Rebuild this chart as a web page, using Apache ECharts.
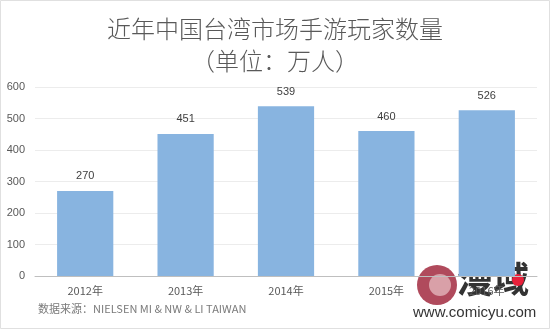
<!DOCTYPE html>
<html><head><meta charset="utf-8">
<script src="https://cdn.jsdelivr.net/npm/echarts@6/dist/echarts.min.js"></script>
<style>html,body{margin:0;padding:0;background:#fff}#c{width:550px;height:329px}</style>
</head><body><div id="c"></div>
<script>
var categories = ['2012年', '2013年', '2014年', '2015年', '2016年'];
var players = [270, 451, 539, 460, 526];
var yTicks = [0, 100, 200, 300, 400, 500, 600];

var chart = echarts.init(document.getElementById('c'), null, {renderer: 'canvas'});
chart.setOption({
  backgroundColor: '#fff',
  animation: false,
  title: [
    {text: '近年中国台湾市场手游玩家数量', left: 'center', top: 12,
     textStyle: {fontSize: 24, fontWeight: 300, color: '#595959', fontFamily: 'Noto Sans CJK SC'}},
    {text: '（单位：万人）', left: 'center', top: 44,
     textStyle: {fontSize: 24, fontWeight: 300, color: '#595959', fontFamily: 'Noto Sans CJK SC'}}
  ],
  grid: {left: 35, right: 13, top: 87, bottom: 53, containLabel: false},
  xAxis: {
    type: 'category', data: categories,
    axisLine: {lineStyle: {color: '#bfbfbf', width: 1}},
    axisTick: {show: false},
    axisLabel: {color: '#595959', fontSize: 11, margin: 9, fontFamily: 'Noto Sans CJK SC'}
  },
  yAxis: {
    type: 'value', min: yTicks[0], max: yTicks[yTicks.length - 1], interval: 100,
    axisLine: {show: false}, axisTick: {show: false},
    splitLine: {lineStyle: {color: '#ececec', width: 1}},
    axisLabel: {color: '#595959', fontSize: 11, margin: 10, fontFamily: 'Liberation Sans'}
  },
  series: [{
    type: 'bar', data: players, barWidth: '56%',
    itemStyle: {color: '#88B4E0'},
    label: {show: true, position: 'top', distance: 9, color: '#404040', fontSize: 11, fontFamily: 'Liberation Sans'}
  }],
  graphic: [
    {type: 'rect', shape: {x: 0.5, y: 0.5, width: 549, height: 328}, style: {fill: 'none', stroke: '#e0e0e0', lineWidth: 1}, silent: true},
    {type: 'text', left: 38, top: 303, style: {text: '数据来源：NIELSEN MI & NW & LI TAIWAN', fill: '#7a7a7a', font: '11px "Noto Sans CJK SC"'}},
    {type: 'circle', shape: {cx: 437, cy: 285, r: 20}, style: {fill: '#b04a5c'}},
    {type: 'circle', shape: {cx: 440, cy: 285, r: 11}, style: {fill: '#d9a0a8'}},
    {type: 'text', left: 457, top: 261, style: {text: '漫域', fill: '#333', font: 'bold 36px "Noto Sans CJK SC"'}},
    {type: 'circle', shape: {cx: 518, cy: 280, r: 6}, style: {fill: '#e8203a'}},
    {type: 'text', left: 413, top: 305, style: {text: 'www.comicyu.com', fill: '#333', font: '15px "Liberation Sans"'}}
  ]
});
</script></body></html>
